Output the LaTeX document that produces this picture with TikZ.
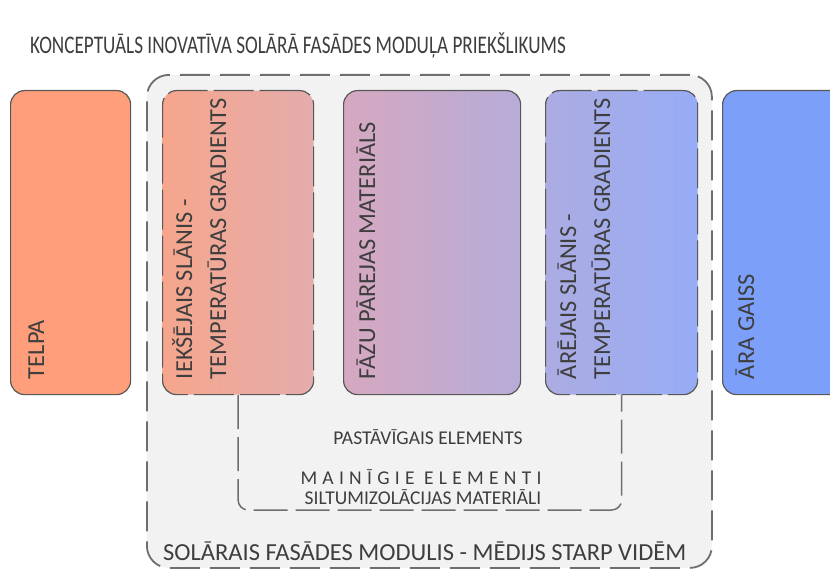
\documentclass[tikz,border=0pt]{standalone}
\usepackage{fontspec}
\setmainfont{Carlito}
\usetikzlibrary{positioning,calc}
\definecolor{txtgray}{RGB}{62,62,62}
\definecolor{edgegray}{RGB}{88,88,88}
\definecolor{dashgray}{RGB}{110,110,110}
\definecolor{modfill}{RGB}{242,242,242}
\definecolor{roomc}{RGB}{255,158,122}
\definecolor{innerl}{RGB}{246,166,140}
\definecolor{innerr}{RGB}{228,172,172}
\definecolor{pcml}{RGB}{214,168,192}
\definecolor{pcmr}{RGB}{182,172,216}
\definecolor{outerl}{RGB}{172,172,226}
\definecolor{outerr}{RGB}{150,172,246}
\definecolor{airc}{RGB}{124,160,250}

\begin{document}
\begin{tikzpicture}[x=1pt,y=-1pt,text=txtgray,
  layer/.style={draw=edgegray,line width=1.2pt,rounded corners=14pt,
    minimum height=304pt,anchor=north west,inner sep=0pt},
  dashlayer/.style={layer,dash pattern=on 40pt off 6pt},
  vlabel/.style={rotate=90,anchor=base west,align=left,inner sep=0pt,
    font=\fontsize{24.4}{34}\selectfont},
  midtext/.style={inner sep=0pt,font=\fontsize{19.5}{23}\selectfont}]
  \useasboundingbox[fill=white] (0,0) rectangle (830,572);
  \clip (0,0) rectangle (830,572);
  \node[anchor=west,inner sep=0pt,font=\fontsize{19.2}{23}\selectfont] (title) at (30,45)
    {\scalebox{1}[1.32]{KONCEPTUĀLS INOVATĪVA SOLĀRĀ FASĀDES MODUĻA PRIEKŠLIKUMS}};
  \node[draw=dashgray,fill=modfill,line width=1.8pt,rounded corners=22pt,
    dash pattern=on 30pt off 10pt,minimum width=565pt,minimum height=493pt,
    anchor=north west] (module) at (146,74) {};
  \node[layer,fill=roomc,minimum width=120pt] (room) at (10,90) {};
  \node[dashlayer,left color=innerl,right color=innerr,minimum width=151pt] (inner) at (162,90) {};
  \node[layer,left color=pcml,right color=pcmr,minimum width=177pt] (pcm) at (343,90) {};
  \node[dashlayer,left color=outerl,right color=outerr,minimum width=152pt] (outer) at (545,90) {};
  \node[layer,fill=airc,minimum width=140pt] (air) at (722,90) {};
  \node[vlabel] (roomlbl) at ([shift={(34,-16)}]room.south west) {TELPA};
  \node[vlabel] (innerlbl) at ([shift={(64,-16)}]inner.south west)
    {IEKŠĒJAIS SLĀNIS -\\TEMPERATŪRAS GRADIENTS};
  \node[vlabel] (pcmlbl) at ([shift={(32,-16)}]pcm.south west) {FĀZU PĀREJAS MATERIĀLS};
  \node[vlabel] (outerlbl) at ([shift={(65,-16)}]outer.south west)
    {ĀRĒJAIS SLĀNIS -\\TEMPERATŪRAS GRADIENTS};
  \node[vlabel] (airlbl) at ([shift={(32,-16)}]air.south west) {ĀRA GAISS};
  \coordinate (brk) at (0,510);
  \draw[dashgray,line width=1.5pt,rounded corners=10pt,dash pattern=on 34pt off 8pt]
    (inner.south) -- (inner.south |- brk) -- (outer.south |- brk) -- (outer.south);
  \node[midtext] (fixed) at (428,437) {PASTĀVĪGAIS ELEMENTS};
  \node[midtext] (vary) at (421,477) {\addfontfeature{LetterSpace=27}MAINĪGIE ELEMENTI};
  \node[midtext] (insul) at (423,497) {SILTUMIZOLĀCIJAS MATERIĀLI};
  \node[anchor=west,inner sep=0pt,font=\fontsize{24.5}{29}\selectfont] (modlbl) at (163,551)
    {SOLĀRAIS FASĀDES MODULIS - MĒDIJS STARP VIDĒM};
\end{tikzpicture}
\end{document}
